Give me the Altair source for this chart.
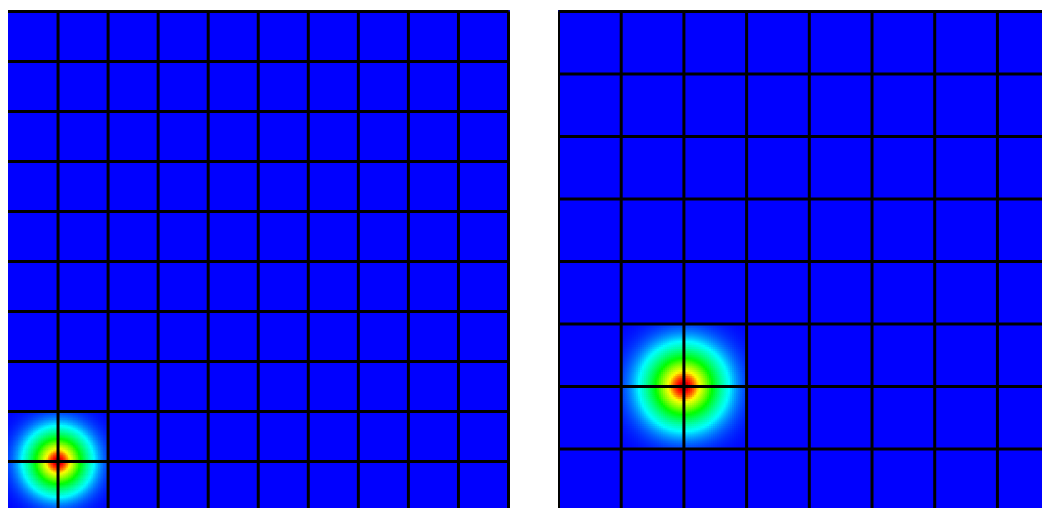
import altair as alt
import numpy as np
import pandas as pd

# Mesh sizes (elements per side) of the two panels
left_cols, left_rows = 10, 10
right_cols, right_rows = 8, 8
# Node where the field peaks (column, row counted from bottom-left)
left_node = [1, 1]
right_node = [2, 2]
# Field width (in element units) and colour map stops
sigma = 0.6
color_stops = [0.0, 0.237, 0.57, 0.85, 0.98, 1.0]
color_range = ["#0000ff", "#00ffff", "#00ff00", "#ffff00", "#ff0000", "#a00000"]
# Visible part of each panel (the page cuts the panels at its edges)
left_x_domain = [0, 10.03]
left_y_domain = [0.07, 10.03]
right_x_domain = [-0.008, 7.711]
right_y_domain = [0.056, 8.024]
left_size = [502, 498]
right_size = [484, 498]


def field_cells(node, n=60):
    """Sub-cells of the 2x2 elements around the node, value = nodal field."""
    cx, cy = node
    step = 2.0 / n
    rows = []
    for i in range(n):
        x0 = cx - 1 + step * i
        xm = x0 + step / 2
        for j in range(n):
            y0 = cy - 1 + step * j
            ym = y0 + step / 2
            r2 = (xm - cx) ** 2 + (ym - cy) ** 2
            v = float(np.exp(-r2 / sigma ** 2))
            rows.append({
                "x0": x0, "x1": min(x0 + step * 1.35, cx + 1),
                "y0": y0, "y1": min(y0 + step * 1.35, cy + 1),
                "v": v,
            })
    return pd.DataFrame(rows)


def panel(cols, rows, node, size, xdom, ydom, skip_left=False):
    xs = alt.Scale(domain=xdom, nice=False, zero=False)
    ys = alt.Scale(domain=ydom, nice=False, zero=False)
    cells = alt.Chart(field_cells(node)).mark_rect(clip=True).encode(
        x=alt.X("x0:Q", scale=xs, axis=None),
        x2="x1:Q",
        y=alt.Y("y0:Q", scale=ys, axis=None),
        y2="y1:Q",
        color=alt.Color(
            "v:Q",
            scale=alt.Scale(domain=color_stops, range=color_range, interpolate="rgb"),
            legend=None,
        ),
    )
    vx = list(range(1 if skip_left else 0, cols + 1))
    vdf = pd.DataFrame({"x": vx, "y0": [0] * len(vx), "y1": [rows] * len(vx)})
    hy = list(range(0, rows + 1))
    hdf = pd.DataFrame({"y": hy, "x0": [0] * len(hy), "x1": [cols] * len(hy)})
    vr = alt.Chart(vdf).mark_rule(color="black", strokeWidth=3, clip=True).encode(
        x=alt.X("x:Q", scale=xs, axis=None),
        y=alt.Y("y0:Q", scale=ys, axis=None),
        y2="y1:Q",
    )
    hr = alt.Chart(hdf).mark_rule(color="black", strokeWidth=3, clip=True).encode(
        y=alt.Y("y:Q", scale=ys, axis=None),
        x=alt.X("x0:Q", scale=xs, axis=None),
        x2="x1:Q",
    )
    return alt.layer(cells, vr, hr).properties(width=size[0], height=size[1])


left = panel(left_cols, left_rows, left_node, left_size, left_x_domain, left_y_domain, skip_left=True)
right = panel(right_cols, right_rows, right_node, right_size, right_x_domain, right_y_domain)

chart = alt.hconcat(left, right, spacing=48).properties(
    padding={"left": 0, "top": 2, "right": 0, "bottom": 0},
).configure_view(fill="#0000ff", strokeWidth=0)

chart.save("out.html", embed_options={"renderer": "svg", "actions": False})
